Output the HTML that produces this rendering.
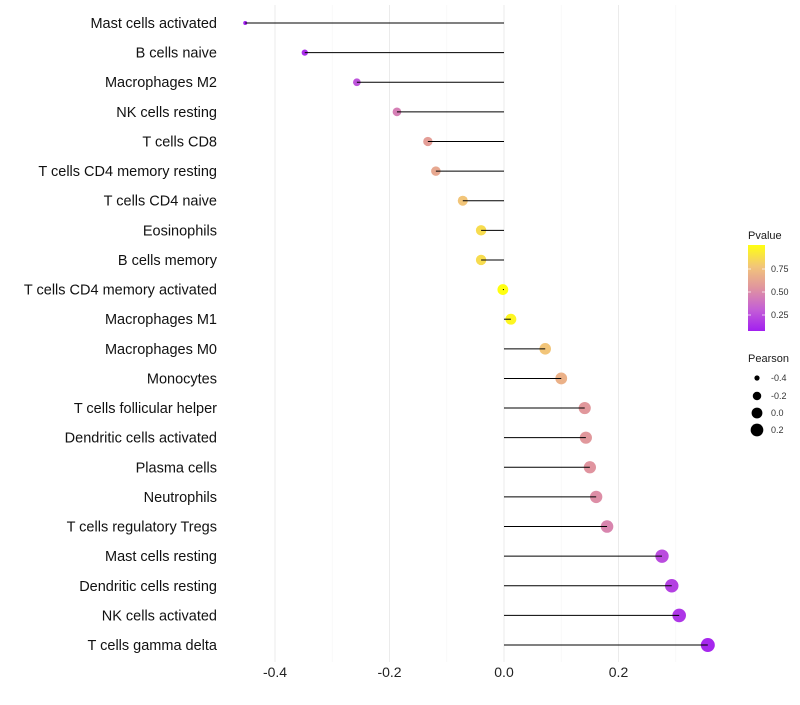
<!DOCTYPE html>
<html><head><meta charset="utf-8"><style>
body{margin:0;background:#fff;font-family:"Liberation Sans",sans-serif}
</style></head><body>
<svg id="c" width="800" height="700" xmlns="http://www.w3.org/2000/svg" font-family="Liberation Sans, sans-serif">
<defs><linearGradient id="pg" x1="0" y1="1" x2="0" y2="0">
<stop offset="0" stop-color="#a21ff0"/><stop offset="0.25" stop-color="#c45fd6"/><stop offset="0.5" stop-color="#e0949f"/><stop offset="0.75" stop-color="#f2c579"/><stop offset="1" stop-color="#ffff10"/></linearGradient></defs>
</svg>
<script>
const categories=["Mast cells activated","B cells naive","Macrophages M2","NK cells resting","T cells CD8","T cells CD4 memory resting","T cells CD4 naive","Eosinophils","B cells memory","T cells CD4 memory activated","Macrophages M1","Macrophages M0","Monocytes","T cells follicular helper","Dendritic cells activated","Plasma cells","Neutrophils","T cells regulatory  Tregs ","Mast cells resting","Dendritic cells resting","NK cells activated","T cells gamma delta"];
const pearson=[-0.452,-0.348,-0.257,-0.187,-0.133,-0.119,-0.072,-0.040,-0.040,-0.002,0.012,0.072,0.100,0.141,0.143,0.150,0.161,0.180,0.276,0.293,0.306,0.356];
const pvalue=[0.05,0.12,0.22,0.40,0.55,0.60,0.75,0.85,0.85,1.0,0.96,0.75,0.65,0.52,0.52,0.50,0.47,0.43,0.20,0.17,0.14,0.10];
const xTicks=[-0.4,-0.2,0.0,0.2];
const xTickLabels=["-0.4","-0.2","0.0","0.2"];
const NS="http://www.w3.org/2000/svg";
const svg=document.getElementById('c');
const X=v=>504+v*572.5;
const Y=i=>23+i*29.62;
function mk(t,a,p){const e=document.createElementNS(NS,t);for(const k in a)e.setAttribute(k,a[k]);(p||svg).appendChild(e);return e;}
function lerp(a,b,t){return a.map((v,i)=>Math.round(v+(b[i]-v)*t));}
const stops=[[0.08,[162,31,240]],[0.25,[196,95,214]],[0.5,[224,148,159]],[0.75,[242,197,121]],[1.0,[255,255,16]]];
function col(p){for(let i=0;i<stops.length-1;i++){if(p<=stops[i+1][0]){const t=Math.max(0,(p-stops[i][0])/(stops[i+1][0]-stops[i][0]));const c=lerp(stops[i][1],stops[i+1][1],t);return `rgb(${c})`;}}return 'rgb(255,255,16)';}
const R=p=>Math.sqrt(4+56*Math.max(0,p+0.45));
for(let v=-0.4;v<=0.31;v+=0.1){const major=Math.abs(Math.round(v*10)%2)===0;
const g=mk('line',{x1:X(v),x2:X(v),y1:5,y2:662,stroke:major?'#ebebeb':'#f5f5f5','stroke-width':major?1:0.6});
}
xTicks.forEach((v,i)=>{const t=mk('text',{x:X(v),y:677,'text-anchor':'middle','font-size':14,fill:'#222'});t.textContent=xTickLabels[i];
});
categories.forEach((c,i)=>{
const t=mk('text',{x:217,y:Y(i)+5,'text-anchor':'end','font-size':14.5,fill:'#111'});t.textContent=c;

const d=mk('circle',{cx:X(pearson[i]),cy:Y(i),r:R(pearson[i]),fill:col(pvalue[i])});

const l=mk('line',{x1:X(0),x2:X(pearson[i]),y1:Y(i),y2:Y(i),stroke:'#000','stroke-width':1});

});
const lt=mk('text',{x:748,y:239,'font-size':11,fill:'#1a1a1a'});lt.textContent='Pvalue';

const cb=mk('rect',{x:748,y:245,width:17,height:86,fill:'url(#pg)'});

[["0.75",269],["0.50",292],["0.25",315]].forEach(([s,y])=>{
mk('line',{x1:748,x2:751,y1:y,y2:y,stroke:'#fff','stroke-width':0.7});mk('line',{x1:762,x2:765,y1:y,y2:y,stroke:'#fff','stroke-width':0.7});
const t=mk('text',{x:771,y:y+3,'font-size':9,fill:'#333'});t.textContent=s;
});
const pt=mk('text',{x:748,y:362,'font-size':11,fill:'#1a1a1a'});pt.textContent='Pearson';

[[-0.4,"-0.4",378],[-0.2,"-0.2",396],[0,"0.0",413],[0.2,"0.2",430]].forEach(([v,s,y])=>{
const c=mk('circle',{cx:757,cy:y,r:R(v),fill:'#000'});

const t=mk('text',{x:771,y:y+3,'font-size':9,fill:'#333'});t.textContent=s;
});
</script>
</body></html>
